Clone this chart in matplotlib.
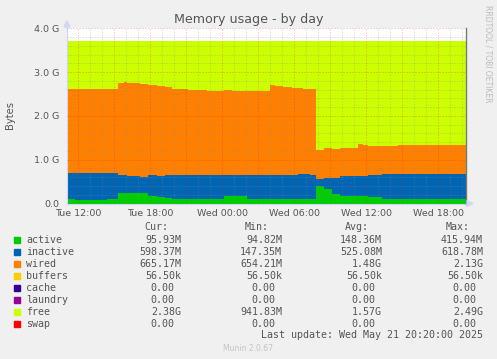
import numpy as np
import matplotlib
matplotlib.use("Agg")
import matplotlib.pyplot as plt
from matplotlib.patches import Rectangle, Polygon

# ---------------- data (GiB, hours since Tue 00:00) ----------------
t_start = [11.08, 11.75, 14.42, 15.33, 15.83, 16.08, 17.17, 17.83, 18.58, 19.25,
           19.83, 21.17, 22.75, 24.17, 24.83, 26.08, 28.00, 28.42, 29.08, 29.83,
           30.33, 30.75, 31.33, 31.83, 32.50, 33.17, 33.83, 34.50, 35.33, 35.75,
           36.17, 37.33, 38.67, 43.58]
t_end = 44.33

active = [0.095, 0.088, 0.093, 0.234, 0.234, 0.244, 0.244, 0.171, 0.137, 0.127,
          0.107, 0.107, 0.107, 0.166, 0.166, 0.095, 0.095, 0.095, 0.095, 0.095,
          0.093, 0.093, 0.100, 0.406, 0.337, 0.220, 0.181, 0.168, 0.168, 0.168,
          0.148, 0.107, 0.095, 0.094]
inactive = [0.594, 0.600, 0.596, 0.427, 0.427, 0.389, 0.365, 0.470, 0.500, 0.513,
            0.533, 0.533, 0.533, 0.474, 0.474, 0.545, 0.562, 0.562, 0.562, 0.562,
            0.571, 0.571, 0.557, 0.146, 0.255, 0.370, 0.440, 0.450, 0.470, 0.470,
            0.510, 0.563, 0.584, 0.584]
wired = [1.92, 1.93, 1.93, 2.10, 2.12, 2.11, 2.11, 2.06, 2.04, 2.01,
         1.98, 1.96, 1.93, 1.96, 1.93, 1.93, 2.04, 2.02, 2.00, 1.98,
         1.98, 1.96, 1.96, 0.66, 0.68, 0.65, 0.65, 0.65, 0.71, 0.69,
         0.66, 0.65, 0.65, 0.65]
buffers = [0.0000526] * 34
cache = [0.0] * 34
laundry = [0.0] * 34
free = [1.10, 1.09, 1.09, 0.95, 0.93, 0.97, 0.99, 1.01, 1.03, 1.06,
        1.09, 1.11, 1.14, 1.11, 1.14, 1.14, 1.01, 1.03, 1.05, 1.07,
        1.07, 1.09, 1.09, 2.50, 2.44, 2.47, 2.44, 2.44, 2.36, 2.38,
        2.39, 2.39, 2.38, 2.38]
swap = [0.0] * 34

series_names = ["active", "inactive", "wired", "buffers", "cache", "laundry", "free", "swap"]
series_colors = ["#00CC00", "#0066B3", "#FF8000", "#FFCC00", "#330099", "#990099", "#CCFF00", "#FF0000"]

cur_vals = ["95.93M", "598.37M", "665.17M", "56.50k", "0.00", "0.00", "2.38G", "0.00"]
min_vals = ["94.82M", "147.35M", "654.21M", "56.50k", "0.00", "0.00", "941.83M", "0.00"]
avg_vals = ["148.36M", "525.08M", "1.48G", "56.50k", "0.00", "0.00", "1.57G", "0.00"]
max_vals = ["415.94M", "618.78M", "2.13G", "56.50k", "0.00", "0.00", "2.49G", "0.00"]

x_tick_pos = [12, 18, 24, 30, 36, 42]
x_tick_labels = ["Tue 12:00", "Tue 18:00", "Wed 00:00", "Wed 06:00", "Wed 12:00", "Wed 18:00"]
y_tick_pos = [0, 1, 2, 3, 4]
y_tick_labels = ["0.0", "1.0 G", "2.0 G", "3.0 G", "4.0 G"]

# ---------------- figure ----------------
W, H = 497, 359
BG = "#F0F0F0"
FONT = "#555555"
fig = plt.figure(figsize=(W / 100, H / 100), dpi=100, facecolor=BG)

def fx(x):
    return x / W

def fy(y):
    return 1 - y / H

ax_l, ax_r, ax_t, ax_b = 67, 466, 28.3, 203.5
ax = fig.add_axes([fx(ax_l), fy(ax_b), (ax_r - ax_l) / W, (ax_b - ax_t) / H])
ax.set_facecolor("white")

t = np.array(t_start + [t_end])
layers = [active, inactive, wired, buffers, cache, laundry, free, swap]
bottom = np.zeros(len(t))
for vals, col in zip(layers, series_colors):
    v = np.array(vals + [vals[-1]])
    top = bottom + v
    ax.fill_between(t, bottom, top, step="post", color=col, linewidth=0, zorder=2)
    bottom = top

ax.set_xlim(11.083, 44.333)
ax.set_ylim(0, 4.0)

# grid (drawn on top like rrdtool)
minor_col = (0.55, 0.55, 0.55, 0.45)
major_col = (0.80, 0.15, 0.15, 0.40)
for h in np.arange(12, 45, 1):
    is_major = (h % 3 == 0)
    ax.axvline(h, color=major_col if is_major else minor_col, lw=0.72,
               linestyle=(0, (1, 2)), zorder=3)
for yv in np.arange(0.2, 4.01, 0.2):
    is_major = abs(yv - round(yv)) < 1e-6
    ax.axhline(yv, color=major_col if is_major else minor_col, lw=0.72,
               linestyle=(0, (1, 2)), zorder=3)

for s in ["top", "right"]:
    ax.spines[s].set_visible(False)
ax.spines["left"].set_color("#CFD6F8")
ax.spines["bottom"].set_color("#CFD6F8")
ax.spines["left"].set_linewidth(0.8)
ax.spines["bottom"].set_linewidth(0.8)
ax.axvline(44.333, color="#777777", lw=1.0, zorder=4, clip_on=False)

ax.set_xticks(x_tick_pos)
ax.set_xticklabels(x_tick_labels)
ax.set_yticks(y_tick_pos)
ax.set_yticklabels(y_tick_labels)
ax.tick_params(axis="both", length=0, labelsize=6.8, colors=FONT)
ax.tick_params(axis="y", pad=5.6)
ax.tick_params(axis="x", pad=3.6)

# arrows
ax_arrow_col = "#CFD6F8"
fig.patches.append(Polygon([[fx(64), fy(27)], [fx(70), fy(27)], [fx(67), fy(21)]],
                           closed=True, transform=fig.transFigure, color=ax_arrow_col))
fig.patches.append(Polygon([[fx(467), fy(200.5)], [fx(467), fy(206.5)], [fx(473), fy(203.5)]],
                           closed=True, transform=fig.transFigure, color=ax_arrow_col))

# title and labels
fig.text(fx(248.5), fy(19.5), "Memory usage - by day", ha="center", va="center",
         fontsize=9.1, color=FONT)
fig.text(fx(10), fy(115), "Bytes", rotation=90, ha="center", va="center",
         fontsize=7.2, color=FONT)
fig.text(fx(488), fy(5), "RRDTOOL / TOBI OETIKER", rotation=270, ha="center", va="top",
         fontsize=5.5, color="#BBBBBB")

# legend
mono = "DejaVu Sans Mono"
lfs = 7.2
col_right = [181, 282, 382, 483]
headers = ["Cur:", "Min:", "Avg:", "Max:"]
for cx, hd in zip(col_right, headers):
    fig.text(fx(cx - 13), fy(227), hd, ha="right", va="center", family=mono,
             fontsize=lfs, color=FONT)

for i, name in enumerate(series_names):
    yc = 239.7 + 12 * i
    fig.patches.append(Rectangle((fx(14), fy(yc + 3)), 6 / W, 6 / H,
                                 transform=fig.transFigure, color=series_colors[i]))
    fig.text(fx(26.3), fy(yc), name, ha="left", va="center", family=mono,
             fontsize=lfs, color=FONT)
    for cx, arr in zip(col_right, [cur_vals, min_vals, avg_vals, max_vals]):
        s = arr[i]
        xoff = 0 if s[-1].isalpha() else 6.2
        fig.text(fx(cx - xoff), fy(yc), s, ha="right", va="center", family=mono,
                 fontsize=lfs, color=FONT)

fig.text(fx(483), fy(335.3), "Last update: Wed May 21 20:20:00 2025", ha="right",
         va="center", family=mono, fontsize=lfs, color=FONT)
fig.text(fx(248), fy(348.3), "Munin 2.0.67", ha="center", va="center",
         fontsize=5.5, color="#C4C4C4")

fig.savefig("out.png", dpi=100, facecolor=BG)
